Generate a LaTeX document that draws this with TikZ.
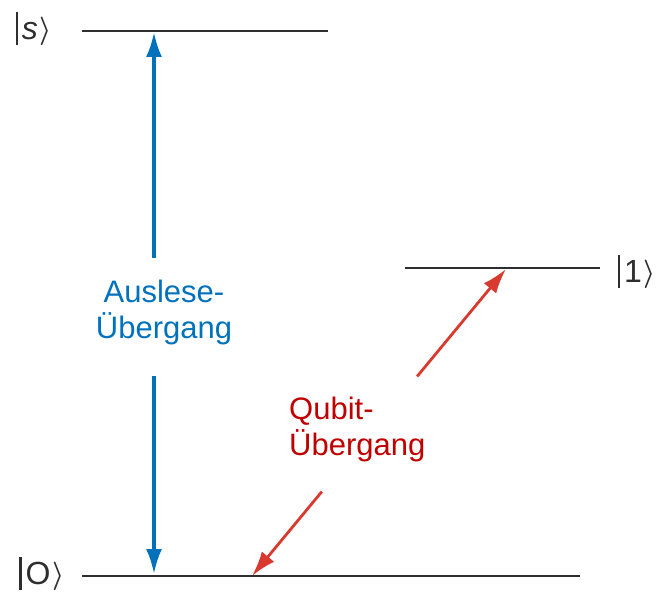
\documentclass[tikz,border=0pt]{standalone}
\usepackage{fontspec}
\setmainfont{Liberation Sans}
\usepackage{amsmath,amsbsy}
\usetikzlibrary{arrows.meta,calc}
\definecolor{readblue}{HTML}{0072BC}
\definecolor{qubitred}{HTML}{C00000}
\definecolor{arrowred}{HTML}{D93A30}
\definecolor{levelgray}{HTML}{2E2E2E}
\newcommand{\ketlabel}[1]{{\fontsize{32}{32}\selectfont\raisebox{-5pt}{\rule{2.2pt}{33pt}}\kern4pt#1\kern2pt\raisebox{1pt}{\scalebox{1.1}[1.15]{$\boldsymbol{\rangle}$}}}}
\begin{document}
\begin{tikzpicture}[x=1pt,y=-1pt,
  level/.style={draw=levelgray,line width=1.9pt},
  ketnode/.style={inner sep=0pt,anchor=center,text=levelgray},
  translabel/.style={font=\fontsize{31}{36}\selectfont,align=left,inner sep=0pt},
  readarrow/.style={draw=readblue,line width=3.3pt,-{Latex[length=25pt,width=16pt]}},
  qubitarrow/.style={draw=arrowred,line width=2.8pt,-{Latex[length=25pt,width=16pt]}}]
\useasboundingbox (0,0) rectangle (664,594);

% energy levels
\coordinate (sL) at (82,31);  \coordinate (sR) at (328,31);
\coordinate (oneL) at (405,268); \coordinate (oneR) at (600,268);
\coordinate (zeroL) at (82,576); \coordinate (zeroR) at (580,576);
\draw[level] (sL) -- (sR);
\draw[level] (oneL) -- (oneR);
\draw[level] (zeroL) -- (zeroR);

% state labels
\node[ketnode] (ks) at (34,29) {\ketlabel{\itshape s}};
\node[ketnode] (k1) at (637,272) {\ketlabel{1}};
\node[ketnode] (k0) at (42,574) {\ketlabel{O}};

% readout transition
\coordinate (rTop) at (154,32);
\coordinate (rBot) at (154,574);
\node[translabel,text=readblue,align=center] (rlab) at (164,312) {Auslese-\\Übergang};
\coordinate (rA) at (154,258);
\coordinate (rB) at (154,376);
\draw[readarrow] (rA) -- (rTop);
\draw[readarrow] (rB) -- (rBot);

% qubit transition
\coordinate (qBot) at (252,576);
\coordinate (qTop) at (506,269);
\node[translabel,text=qubitred,anchor=west] (qlab) at (289,429) {Qubit-\\Übergang};
\draw[qubitarrow] ($(qBot)!0.275!(qTop)$) -- (qBot);
\draw[qubitarrow] ($(qBot)!0.65!(qTop)$) -- (qTop);
\end{tikzpicture}
\end{document}
